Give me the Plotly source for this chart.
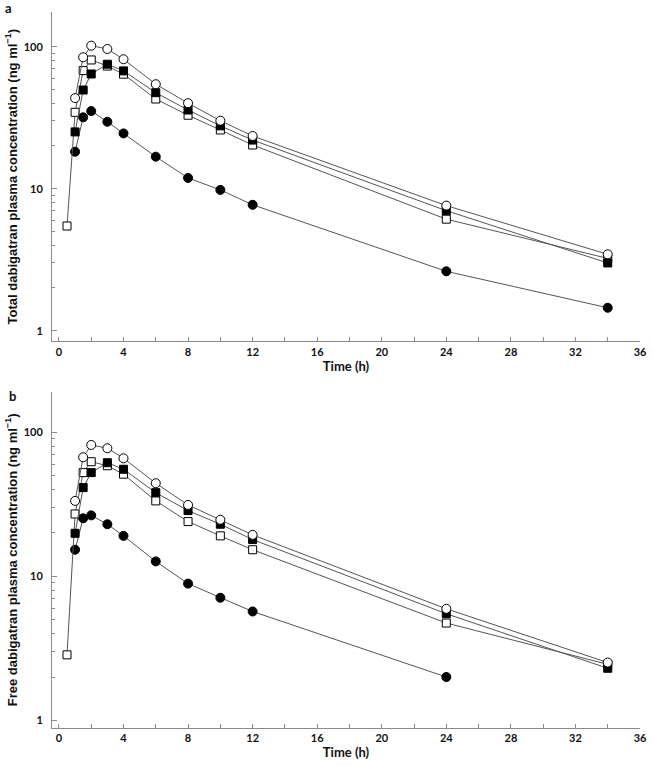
import plotly.graph_objects as go

# ---- data ----
time_osq = [0.5, 1, 1.5, 2, 3, 4, 6, 8, 10, 12, 24, 34]
time_std = [1, 1.5, 2, 3, 4, 6, 8, 10, 12, 24, 34]
time_b_fc = [1, 1.5, 2, 3, 4, 6, 8, 10, 12, 24]

# Panel a: total dabigatran
a_open_circle = [43.4, 84.2, 101.6, 96.3, 81.5, 54.4, 40.0, 30.1, 23.5, 7.6, 3.45]
a_open_square = [5.46, 34.5, 67.8, 80.6, 73.0, 64.0, 42.8, 32.9, 25.9, 20.3, 6.1, 3.23]
a_filled_square = [25.1, 49.5, 64.2, 75.2, 67.5, 47.4, 35.8, 27.7, 22.0, 7.0, 3.0]
a_filled_circle = [18.2, 31.8, 35.2, 29.6, 24.5, 16.8, 11.9, 9.8, 7.7, 2.62, 1.45]

# Panel b: free dabigatran
b_open_circle = [33.4, 67.1, 81.7, 77.5, 66.0, 44.3, 31.3, 24.7, 19.4, 5.95, 2.52]
b_open_square = [2.85, 27.1, 52.5, 62.5, 58.6, 51.2, 33.4, 24.0, 19.1, 15.3, 4.74, 2.45]
b_filled_square = [19.9, 41.3, 52.5, 61.5, 55.4, 38.1, 28.6, 23.0, 18.0, 5.5, 2.3]
b_filled_circle = [15.3, 25.3, 26.5, 23.0, 19.1, 12.7, 8.9, 7.1, 5.7, 2.0]

x_ticks = [0, 4, 8, 12, 16, 20, 24, 28, 32, 36]
y_ticks = [1, 10, 100]
y_ticklabels = ["1", "10", "100"]
y_minor = [2, 3, 4, 5, 6, 7, 8, 9, 20, 30, 40, 50, 60, 70, 80, 90]

LINE = "#555555"
AX = "#8a8a8a"

fig = go.Figure()

def add_series(x, y, symbol, fill, xa, ya):
    fig.add_trace(go.Scatter(
        x=x, y=y, mode="lines+markers", xaxis=xa, yaxis=ya,
        line=dict(color=LINE, width=1),
        marker=dict(symbol=symbol, size=9 if "circle" in symbol else 8,
                    color=fill, line=dict(color="black", width=1)),
        showlegend=False, cliponaxis=False))

for xa, ya, oc, osq, fsq, fc, tfc in [
    ("x", "y", a_open_circle, a_open_square, a_filled_square, a_filled_circle, time_std),
    ("x2", "y2", b_open_circle, b_open_square, b_filled_square, b_filled_circle, time_b_fc),
]:
    add_series(tfc, fc, "circle", "black", xa, ya)
    add_series(time_osq, osq, "square", "white", xa, ya)
    add_series(time_std, fsq, "square", "black", xa, ya)
    add_series(time_std, oc, "circle", "white", xa, ya)

tickfont = dict(family="Lato", size=11, color="#111", weight="bold")

def xaxis(anchor):
    return dict(anchor=anchor, range=[-0.43, 36], tickvals=x_ticks,
                ticks="inside", ticklen=4, tickcolor=AX, showline=True,
                linecolor=AX, linewidth=1, showgrid=False, zeroline=False,
                tickfont=tickfont,
                minor=dict(tickvals=list(range(0, 37, 2)), ticks="inside",
                           ticklen=4, tickcolor=AX, showgrid=False),
                title=dict(text="Time (h)", standoff=4,
                           font=dict(family="Lato", size=13, color="#111", weight="bold")))

def yaxis(anchor, domain, rng, title):
    return dict(anchor=anchor, domain=domain, type="log", range=rng,
                tickvals=y_ticks, ticktext=y_ticklabels, ticks="inside",
                ticklen=5, tickcolor=AX, showline=True, linecolor=AX,
                linewidth=1, showgrid=False, zeroline=False, tickfont=tickfont,
                ticklabelstandoff=6,
                minor=dict(tickvals=y_minor, ticks="inside", ticklen=3,
                           tickcolor=AX, showgrid=False),
                title=dict(text=title, standoff=3,
                           font=dict(family="Liberation Sans", size=13,
                                     color="#111", weight="bold")))

fig.update_layout(
    width=654, height=766,
    margin=dict(l=52, r=7, t=12, b=38),
    plot_bgcolor="white", paper_bgcolor="white",
    xaxis=xaxis("y"),
    yaxis=yaxis("x", [0.540, 1.0], [-0.075, 2.244],
                "Total dabigatran plasma concentration (ng ml<sup>−1</sup>)"),
    xaxis2=xaxis("y2"),
    yaxis2=yaxis("x2", [0.0, 0.4697], [-0.053, 2.282],
                 "Free dabigatran plasma concentration (ng ml<sup>−1</sup>)"),
)

# panel labels, placed in pixel terms converted to paper coords
W, H = 654 - 52 - 7, 766 - 12 - 38
for text, (px, py) in [("a", (8, 8)), ("b", (12, 396))]:
    fig.add_annotation(text=text, x=(px - 52) / W, y=1 - (py - 12) / H,
                       xref="paper", yref="paper", showarrow=False,
                       xanchor="center", yanchor="middle",
                       font=dict(family="Lato", size=13, color="#111", weight="bold"))

fig.write_html("out.html", config={"displayModeBar": False},
               post_script="document.body.style.margin='0';")
